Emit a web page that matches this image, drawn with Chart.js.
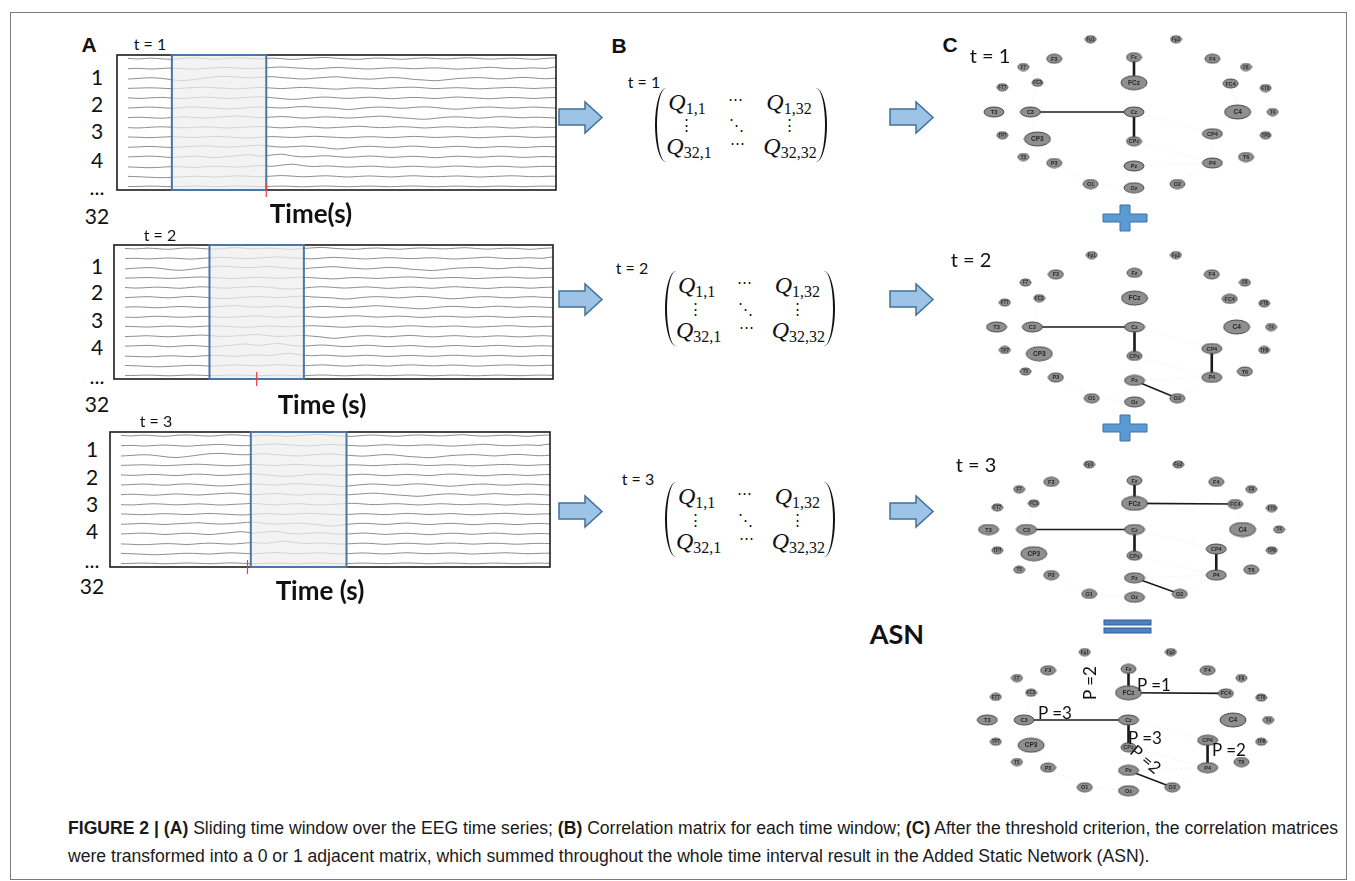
<!DOCTYPE html>
<html><head><meta charset="utf-8">
<script src="https://cdn.jsdelivr.net/npm/chart.js@4/dist/chart.umd.min.js"></script>
<style>
html,body{margin:0;padding:0;background:#fff;}
body{width:1355px;height:881px;position:relative;overflow:hidden;font-family:Lato,"Liberation Sans",sans-serif;color:#111;}
.abs{position:absolute;white-space:nowrap;line-height:1;}
.c{transform:translate(-50%,-50%);}
canvas{position:absolute;}
#frame{position:absolute;left:10px;top:12px;width:1335px;height:866px;border:1.5px solid #7a7a7a;}
.mat{position:absolute;}
.par{position:absolute;top:0;width:11px;height:100%;box-sizing:border-box;}
.pl{left:0;border-left:2px solid #111;border-radius:100% 0 0 100% / 50% 0 0 50%;}
.pr{right:0;border-right:2px solid #111;border-radius:0 100% 100% 0 / 0 50% 50% 0;}
.q{position:absolute;transform:translate(-50%,-50%);font-family:"Liberation Serif",serif;font-size:24px;line-height:1;white-space:nowrap;}
.q i{font-style:italic;}
.q sub{font-size:16px;vertical-align:-4px;font-style:normal;font-family:"Liberation Serif",serif;}
.dt{position:absolute;transform:translate(-50%,-50%);font-family:"DejaVu Serif",serif;font-size:15px;line-height:1;}
.cap{position:absolute;left:68px;font-family:"Liberation Sans Narrow","Liberation Sans",Arial,sans-serif;font-size:17.5px;line-height:1;white-space:nowrap;color:#1a1a1a;transform-origin:0 50%;}
</style></head><body>
<div id="frame"></div>
<svg id="shapes" width="1355" height="881" style="position:absolute;left:0;top:0"></svg>
<canvas id="eeg1"></canvas><canvas id="eeg2"></canvas><canvas id="eeg3"></canvas>
<canvas id="net1"></canvas><canvas id="net2"></canvas><canvas id="net3"></canvas><canvas id="net4"></canvas>
<script>
// ---------------- DATA ----------------
const channelLabels = ['1','2','3','4','...','32'];
const windowLabels = ['t = 1','t = 2','t = 3'];
// sliding window limits and marker (in sample units)
const windowStart = [4.0, 7.7, 11.8];
const windowEnd   = [12.6, 16.3, 20.5];
const markerAt    = [12.6, 12.0, 11.5];
// EEG traces (amplitude, relative to channel spacing)
const eegCh1  = [0.05,0.00,0.08,0.02,-0.04,0.06,0.10,0.04,-0.02,0.05,0.12,0.06,0.00,0.08,0.03,-0.05,0.02,0.10,0.15,0.06,0.00,-0.04,0.05,0.09,0.02,-0.03,0.04,0.10,0.05,0.00,0.06,0.12,0.04,-0.02,0.03,0.08,0.02,-0.04,0.05,0.10];
const eegCh2  = [0.00,0.04,-0.03,0.02,0.07,0.01,-0.05,0.03,0.09,0.14,0.06,0.00,0.05,0.12,0.18,0.10,0.04,-0.02,0.06,0.13,0.08,0.02,-0.03,0.04,0.10,0.06,0.00,0.05,0.09,0.03,-0.04,0.02,0.08,0.15,0.07,0.00,0.04,0.09,0.03,0.20];
const eegCh3  = [-0.05,0.02,0.08,0.03,-0.12,-0.20,-0.10,0.05,0.18,0.22,0.15,0.08,0.12,0.20,0.10,0.02,-0.05,0.04,0.12,0.18,0.08,0.00,-0.06,0.02,0.10,0.05,-0.08,-0.15,-0.22,-0.12,0.00,0.06,0.10,0.03,-0.04,0.05,0.12,0.06,-0.02,0.04];
const eegCh4  = [0.00,0.03,0.06,0.02,-0.03,0.02,0.08,0.12,0.06,0.00,-0.04,0.03,0.09,0.04,-0.02,0.05,0.10,0.04,-0.02,-0.08,0.00,0.06,0.02,-0.03,0.04,0.09,0.12,0.05,-0.02,0.03,0.07,0.02,-0.05,0.01,0.06,0.10,0.04,-0.01,0.05,0.08];
const eegCh5  = [0.04,-0.02,0.03,0.08,0.02,-0.04,0.05,0.11,0.05,-0.03,0.02,0.09,0.14,0.06,-0.04,-0.12,-0.05,0.06,0.12,0.05,-0.02,0.04,0.10,0.03,-0.05,0.02,0.08,0.03,-0.04,0.05,0.12,0.06,0.00,-0.06,0.02,0.07,0.03,-0.03,0.04,0.08];
const eegCh6  = [0.00,0.05,0.10,0.04,-0.02,0.06,0.12,0.05,-0.03,-0.10,-0.04,0.05,0.11,0.06,0.00,0.08,0.15,0.08,0.02,-0.04,-0.15,-0.06,0.05,0.10,0.04,-0.03,0.06,0.12,0.05,-0.06,-0.12,-0.03,0.06,0.10,0.03,-0.02,0.05,0.10,0.04,0.00];
const eegCh7  = [0.02,0.06,0.01,-0.04,0.03,0.09,0.04,-0.02,0.05,0.12,0.18,0.10,0.02,0.07,0.13,0.06,-0.03,0.04,0.10,0.05,-0.02,0.03,0.11,0.17,0.09,0.00,-0.08,-0.15,-0.05,0.06,0.10,0.04,-0.03,0.05,0.12,0.06,0.00,0.07,0.03,-0.02];
const eegCh8  = [0.00,-0.03,0.04,0.09,0.04,-0.02,0.03,0.08,0.03,-0.04,0.02,0.07,0.12,0.05,-0.02,0.04,0.10,0.04,-0.03,0.02,0.08,0.14,0.07,0.00,0.05,0.10,0.04,-0.03,0.03,0.09,0.05,-0.01,0.04,0.08,0.03,-0.04,0.02,0.07,0.03,0.00];
const eegCh9  = [0.05,0.02,-0.02,0.03,0.08,0.04,-0.01,0.05,0.10,0.06,0.00,-0.05,0.02,0.09,0.05,0.00,0.06,0.12,0.07,0.01,-0.04,0.03,0.08,0.04,-0.02,0.05,0.11,0.06,0.00,0.04,0.09,0.03,-0.03,0.02,0.07,0.12,0.06,0.00,0.04,0.07];
const eegCh10 = [0.00,0.04,0.09,0.03,-0.02,0.05,0.10,0.16,0.08,0.02,0.07,0.15,0.22,0.10,0.02,0.06,0.12,0.05,-0.05,-0.18,-0.08,0.04,0.10,0.05,-0.02,0.06,0.12,0.05,-0.03,0.04,0.10,0.04,-0.04,0.02,0.08,0.03,-0.03,0.04,0.09,0.04];
const eegCh11 = [0.02,0.06,0.10,0.04,-0.04,0.03,0.09,0.03,-0.05,0.05,0.15,0.25,0.10,0.20,0.30,0.12,0.02,0.08,0.14,0.06,-0.02,0.04,0.11,0.05,-0.03,0.03,0.08,0.02,-0.06,0.02,0.09,0.04,-0.02,0.05,0.10,0.04,-0.03,0.02,0.06,0.02];
const eegCh12 = [0.00,-0.04,-0.08,-0.03,0.03,0.00,-0.06,0.02,0.08,0.03,-0.02,0.06,0.14,0.06,0.18,0.28,0.12,0.04,0.10,0.05,-0.02,0.03,0.08,0.03,-0.04,0.02,0.07,0.02,-0.03,0.04,0.09,0.04,-0.02,0.03,0.07,0.02,-0.03,0.02,0.06,0.03];
const eegCh13 = [0.04,0.00,-0.05,-0.10,-0.06,0.00,0.05,0.02,-0.03,0.04,0.09,0.05,0.00,0.06,0.12,0.06,0.00,0.05,0.10,0.04,-0.03,0.03,0.08,0.03,-0.02,0.05,0.10,0.05,0.00,0.04,0.08,0.03,-0.03,0.02,0.06,0.10,0.05,0.00,0.04,0.06];
const eegCh14 = [0.00,0.02,0.05,0.02,-0.02,0.02,0.06,0.03,-0.01,0.03,0.07,0.03,-0.02,0.02,0.05,0.02,-0.02,0.03,0.06,0.02,-0.02,0.02,0.05,0.02,-0.01,0.03,0.06,0.03,-0.02,0.02,0.05,0.02,-0.02,0.02,0.05,0.02,-0.01,0.03,0.05,0.02];
const eegTraces = [eegCh1,eegCh2,eegCh3,eegCh4,eegCh5,eegCh6,eegCh7,eegCh8,eegCh9,eegCh10,eegCh11,eegCh12,eegCh13,eegCh14];

// electrode network (10-20 layout, normalised head coordinates)
const nodeNames = ['Fp1','Fp2','F7','F3','Fz','F4','F8','FT7','FC3','FCz','FC4','FT8','T3','C3','Cz','C4','T4','TP7','CP3','CPz','CP4','TP8','T5','P3','Pz','P4','T6','O1','Oz','O2'];
const nodeX = [-0.31,0.30,-0.79,-0.57,0,0.56,0.80,-0.94,-0.69,0,0.69,0.94,-1.0,-0.74,0,0.74,0.99,-0.94,-0.69,0,0.56,0.94,-0.79,-0.57,0,0.56,0.80,-0.31,0,0.31];
const nodeY = [0.97,0.97,0.60,0.71,0.73,0.71,0.60,0.33,0.39,0.39,0.38,0.32,0,0,0,0,0,-0.31,-0.36,-0.39,-0.29,-0.31,-0.60,-0.68,-0.72,-0.68,-0.60,-0.96,-1.01,-0.96];
const nodeClass = ['s','s','s','m','m','m','s','s','s','l','m','s','ml','ml','ml','l','s','s','l','m','ml','s','s','m','ml','ml','m','m','ml','m'];
const edgesT1 = [['Fz','FCz'],['C3','Cz'],['Cz','CPz']];
const edgesT2 = [['C3','Cz'],['Cz','CPz'],['CP4','P4'],['Pz','O2']];
const edgesT3 = [['Fz','FCz'],['FCz','FC4'],['C3','Cz'],['Cz','CPz'],['CP4','P4'],['Pz','O2']];
const edgesASN = [['Fz','FCz'],['FCz','FC4'],['C3','Cz'],['Cz','CPz'],['CP4','P4'],['Pz','O2']];
const asnWeights = [2,1,3,3,2,2];
const weakEdges = [['FC3','C3'],['C3','CP3'],['CP3','P3'],['P3','O1'],['O1','Oz'],['FC4','C4'],['C4','CP4'],['CP4','P4'],['P4','O2'],['Cz','CP4'],['Pz','P4'],['CPz','P4']];

// ---------------- HELPERS ----------------
function txt(s, cx, cy, css){
  const d=document.createElement('div'); d.className='abs c'; d.textContent=s;
  d.style.left=cx+'px'; d.style.top=cy+'px'; d.style.cssText+=';'+(css||''); document.body.appendChild(d); return d;
}

// ---------------- PANEL A : EEG ----------------
const eegFramePlugin = {
  id:'eegFrame',
  afterDatasetsDraw(chart, args, o){
    const {ctx, chartArea:a, scales:{x}} = chart;
    const x0=x.getPixelForValue(o.start), x1=x.getPixelForValue(o.end), xm=x.getPixelForValue(o.marker);
    ctx.save();
    ctx.fillStyle='rgba(238,238,238,0.72)';
    ctx.fillRect(x0,a.top,x1-x0,a.bottom-a.top);
    ctx.strokeStyle='#1c1c1c'; ctx.lineWidth=1.6;
    ctx.strokeRect(a.left,a.top,a.right-a.left,a.bottom-a.top);
    ctx.strokeStyle='#4a76a8'; ctx.lineWidth=2;
    ctx.strokeRect(x0,a.top,x1-x0,a.bottom-a.top);
    ctx.strokeStyle='#ee3b3b'; ctx.lineWidth=1.2;
    ctx.beginPath(); ctx.moveTo(xm,a.bottom-7); ctx.lineTo(xm,a.bottom+7); ctx.stroke();
    ctx.restore();
  }
};
const eegBoxes = [{x:117,y:55,w:439,h:135},{x:114,y:245,w:439,h:134},{x:110,y:432,w:440,h:135}];
eegBoxes.forEach((b,k)=>{
  const cv=document.getElementById('eeg'+(k+1));
  cv.width=b.w+4; cv.height=b.h+14; cv.style.left=(b.x-2)+'px'; cv.style.top=(b.y-2)+'px';
  const n=eegTraces.length;
  const datasets=eegTraces.map((tr,i)=>({
    data: tr.map((v,j)=>({x:j,y:v+(n-1-i)})),
    borderColor:'#7a7a7a', borderWidth:0.85, pointRadius:0, tension:0.35, fill:false
  }));
  new Chart(cv,{type:'line',data:{datasets},
    options:{animation:false,responsive:false,events:[],
      layout:{padding:{left:2,right:2,top:2,bottom:12},autoPadding:false},
      plugins:{legend:{display:false},tooltip:{enabled:false},
        eegFrame:{start:windowStart[k],end:windowEnd[k],marker:markerAt[k]}},
      scales:{x:{type:'linear',min:-1,max:39,display:false},y:{min:-0.35,max:13.4,display:false}}},
    plugins:[eegFramePlugin]});
});
// channel labels
const chanPos = [
  {x:97,ys:[75.5,102.5,130,158.5,186,214.5]},
  {x:97,ys:[265,291,319,346,375,403]},
  {x:92,ys:[448,476,503,530,559,585]}
];
chanPos.forEach(p=>channelLabels.forEach((l,i)=>txt(l,p.x,p.ys[i],'font-size:21px;color:#111')));
txt('A',89,44,'font-family:"Liberation Sans",Arial;font-weight:bold;font-size:21px');
const tPosA=[[150,44],[160,235],[156,421]];
tPosA.forEach((p,i)=>txt(windowLabels[i],p[0],p[1],'font-size:16px'));
txt('Time(s)',311,213,'font-size:26px;font-weight:bold');
txt('Time (s)',322,404,'font-size:26px;font-weight:bold');
txt('Time (s)',320,590,'font-size:26px;font-weight:bold');

// ---------------- PANEL B : matrices ----------------
txt('B',619,45,'font-family:"Liberation Sans",Arial;font-weight:bold;font-size:21px');
const matBoxes=[{x:655,y:88,w:172,h:74,t:[644,82]},{x:665,y:271,w:170,h:75,t:[632,268]},{x:665,y:482,w:170,h:75,t:[638,479]}];
matBoxes.forEach((m,i)=>{
  txt(windowLabels[i],m.t[0],m.t[1],'font-size:16px');
  const d=document.createElement('div'); d.className='mat';
  d.style.cssText=`left:${m.x}px;top:${m.y}px;width:${m.w}px;height:${m.h}px`;
  const sx=m.w/172, sy=m.h/74;
  const cells=[
    [32,15,'<i>Q</i><sub>1,1</sub>','q'],[80,11,'⋯','dt'],[134,15,'<i>Q</i><sub>1,32</sub>','q'],
    [31,37,'⋮','dt'],[81,37,'⋱','dt'],[134,37,'⋮','dt'],
    [34,59,'<i>Q</i><sub>32,1</sub>','q'],[82,55,'⋯','dt'],[135,59,'<i>Q</i><sub>32,32</sub>','q']];
  let h='<div class="par pl"></div><div class="par pr"></div>';
  cells.forEach(c=>{h+=`<div class="${c[3]}" style="left:${c[0]*sx}px;top:${c[1]*sy}px">${c[2]}</div>`;});
  d.innerHTML=h; document.body.appendChild(d);
});

// ---------------- shapes (arrows, plus, equals) ----------------
(function(){
  const svg=document.getElementById('shapes'); let s='';
  const arrow=(x,y)=>`<polygon points="${x},${y+7} ${x+26},${y+7} ${x+26},${y} ${x+43},${y+15.5} ${x+26},${y+31} ${x+26},${y+23} ${x},${y+23}" fill="#9dc3e6" stroke="#41719c" stroke-width="1.5"/>`;
  [[559,102],[559,284],[559,496],[890,102],[890,284],[890,496]].forEach(p=>s+=arrow(p[0],p[1]));
  const plus=(cx,cy)=>`<polygon points="${cx-22},${cy-4} ${cx-5},${cy-4} ${cx-5},${cy-13} ${cx+5},${cy-13} ${cx+5},${cy-4} ${cx+22},${cy-4} ${cx+22},${cy+4} ${cx+5},${cy+4} ${cx+5},${cy+13} ${cx-5},${cy+13} ${cx-5},${cy+4} ${cx-22},${cy+4}" fill="#5b9bd5" stroke="#41719c" stroke-width="1"/>`;
  s+=plus(1125,218)+plus(1125,428);
  s+=`<rect x="1104" y="620" width="47" height="5" fill="#4f81bd" stroke="#2f5f9a" stroke-width="1"/><rect x="1104" y="628" width="47" height="5" fill="#4f81bd" stroke="#2f5f9a" stroke-width="1"/>`;
  svg.innerHTML=s;
})();

// ---------------- PANEL C : networks ----------------
txt('C',950,44,'font-family:"Liberation Sans",Arial;font-weight:bold;font-size:21px');
const tPosC=[[990,55],[971,259],[976,464]];
tPosC.forEach((p,i)=>txt(windowLabels[i],p[0],p[1],'font-size:20px'));
txt('ASN',897,633,'font-size:27px;font-weight:bold');

const nodeSizes={s:[11,7],m:[15,9],ml:[20,10],l:[26,14]};
function ellipseImg(w,h){
  const c=document.createElement('canvas'); c.width=w+2; c.height=h+2;
  const g=c.getContext('2d'); g.beginPath();
  g.ellipse((w+2)/2,(h+2)/2,w/2,h/2,0,0,Math.PI*2);
  g.fillStyle='#8f8f8f'; g.fill(); g.lineWidth=1; g.strokeStyle='#4a4a4a'; g.stroke(); return c;
}
const nodeImgs={}; Object.keys(nodeSizes).forEach(k=>nodeImgs[k]=ellipseImg(...nodeSizes[k]));
const nodeLabelPlugin={
  id:'nodeLabels',
  afterDatasetsDraw(chart){
    const meta=chart.getDatasetMeta(0);
    const ctx=chart.ctx; ctx.save();
    ctx.fillStyle='#262626'; ctx.textAlign='center'; ctx.textBaseline='middle';
    meta.data.forEach((el,i)=>{
      const fs=nodeClass[i]==='s'?4.5:(nodeClass[i]==='l'?6.5:5.5);
      ctx.font=`bold ${fs}px "Liberation Sans",Arial`;
      ctx.fillText(nodeNames[i],el.x,el.y+0.5);
    });
    ctx.restore();
  }
};
const pt=name=>{const i=nodeNames.indexOf(name);return {x:nodeX[i],y:nodeY[i]};};
const nets=[
  {id:'net1',cx:1134,cy:112,sx:140,sy:75,edges:edgesT1},
  {id:'net2',cx:1134,cy:327,sx:138,sy:74,edges:edgesT2},
  {id:'net3',cx:1134,cy:529,sx:146,sy:67,edges:edgesT3},
  {id:'net4',cx:1128,cy:720,sx:141,sy:70,edges:edgesASN}
];
nets.forEach(n=>{
  const cv=document.getElementById(n.id);
  cv.width=Math.round(2.5*n.sx); cv.height=Math.round(2.4*n.sy);
  cv.style.left=Math.round(n.cx-1.25*n.sx)+'px'; cv.style.top=Math.round(n.cy-1.2*n.sy)+'px';
  const ds=[];
  // nodes first (drawn on top, order 0)
  ds.push({data:nodeNames.map((nm,i)=>({x:nodeX[i],y:nodeY[i]})),pointStyle:nodeClass.map(c=>nodeImgs[c]),pointRadius:5,showLine:false,order:0});
  n.edges.forEach(e=>{const a=pt(e[0]),b=pt(e[1]);
    ds.push({data:[a,b],showLine:true,borderColor:'#1a1a1a',borderWidth:(a.x===b.x?2.6:1.6),pointRadius:0,order:1});});
  weakEdges.forEach(e=>ds.push({data:[pt(e[0]),pt(e[1])],showLine:true,borderColor:'rgba(0,0,0,0.10)',borderWidth:1,borderDash:[1,3],pointRadius:0,order:2}));
  new Chart(cv,{type:'scatter',data:{datasets:ds},
    options:{animation:false,responsive:false,events:[],
      layout:{padding:0,autoPadding:false},
      plugins:{legend:{display:false},tooltip:{enabled:false}},
      scales:{x:{min:-1.25,max:1.25,display:false},y:{min:-1.2,max:1.2,display:false}}},
    plugins:[nodeLabelPlugin]});
});
// ASN edge weight labels
const asnLabelPos=[[1089,683,-90],[1154,684,0],[1055,712,0],[1145,737,0],[1229,749,0],[1146,759,40]];
asnWeights.forEach((w,i)=>{const p=asnLabelPos[i];
  txt('P ='+w,p[0],p[1],`font-size:17px;transform:translate(-50%,-50%) rotate(${p[2]}deg)`);});

// ---------------- caption ----------------
const capLine1='<b>FIGURE 2 | (A)</b> Sliding time window over the EEG time series; <b>(B)</b> Correlation matrix for each time window; <b>(C)</b> After the threshold criterion, the correlation matrices';
const capLine2='were transformed into a 0 or 1 adjacent matrix, which summed throughout the whole time interval result in the Added Static Network (ASN).';
const c1=document.createElement('div'); c1.className='cap'; c1.innerHTML=capLine1; c1.style.top='820px'; document.body.appendChild(c1);
const c2=document.createElement('div'); c2.className='cap'; c2.textContent=capLine2; c2.style.top='848px'; document.body.appendChild(c2);
const fit=()=>{c1.style.transform='none';c2.style.transform='none';const w=c1.getBoundingClientRect().width; const s=1270/w; c1.style.transform=`scaleX(${s})`; c2.style.transform=`scaleX(${s})`;};
fit(); if(document.fonts&&document.fonts.ready) document.fonts.ready.then(fit);
</script>
</body></html>
